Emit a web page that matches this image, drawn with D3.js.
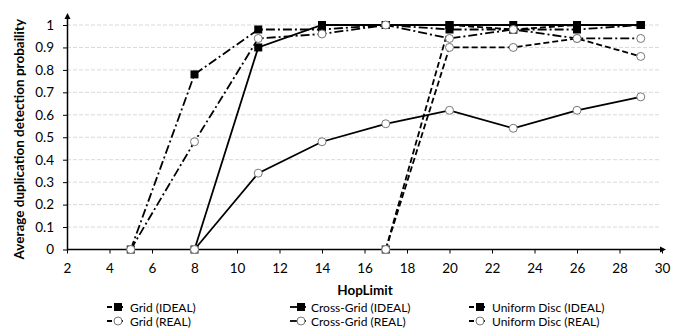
<!DOCTYPE html>
<html lang="en">
<head>
    <meta charset="UTF-8">
    <title>HopLimit</title>
    <script src="https://d3js.org/d3.v7.min.js"></script>
    <style>
        body { margin: 0; background: #fff; }
        svg text { font-family: Lato, "Open Sans", sans-serif; fill: #000; }
    </style>
</head>
<body>
    <svg width="685" height="333"></svg>
    <script>
        // values
        const xTicks = [2, 4, 6, 8, 10, 12, 14, 16, 18, 20, 22, 24, 26, 28, 30];
        const yTicks = [0, 0.1, 0.2, 0.3, 0.4, 0.5, 0.6, 0.7, 0.8, 0.9, 1];

        const gridHops = [17, 20, 23, 26, 29];
        const gridIdeal = [0, 1, 0.98, 1, 1];
        const gridReal = [0, 0.9, 0.9, 0.94, 0.86];

        const crossHops = [8, 11, 14, 17, 20, 23, 26, 29];
        const crossIdeal = [0, 0.9, 1, 1, 1, 1, 1, 1];
        const crossReal = [0, 0.34, 0.48, 0.56, 0.62, 0.54, 0.62, 0.68];

        const discHops = [5, 8, 11, 14, 17, 20, 23, 26, 29];
        const discIdeal = [0, 0.78, 0.98, 0.98, 1, 0.98, 0.98, 0.98, 1];
        const discReal = [0, 0.48, 0.94, 0.96, 1, 0.94, 0.98, 0.94, 0.94];

        const dashed = "6,3";
        const dashDot = "9,3,2,3";

        const series = [
            {name: "Grid (IDEAL)", x: gridHops, y: gridIdeal, dash: dashed, marker: "square"},
            {name: "Grid (REAL)", x: gridHops, y: gridReal, dash: dashed, marker: "circle"},
            {name: "Cross-Grid (IDEAL)", x: crossHops, y: crossIdeal, dash: null, marker: "square"},
            {name: "Cross-Grid (REAL)", x: crossHops, y: crossReal, dash: null, marker: "circle"},
            {name: "Uniform Disc (IDEAL)", x: discHops, y: discIdeal, dash: dashDot, marker: "square"},
            {name: "Uniform Disc (REAL)", x: discHops, y: discReal, dash: dashDot, marker: "circle"}
        ];

        const margin = {top: 25, left: 67};
        const plotBottom = 249.5;

        const svg = d3.select("svg");

        const xScale = d3.scaleLinear()
            .domain([2, 30])
            .range([margin.left, 662]);

        const yScale = d3.scaleLinear()
            .domain([0, 1])
            .range([plotBottom, margin.top]);

        // gridlines
        svg.append("g")
            .selectAll("line")
            .data(yTicks.filter(d => d > 0))
            .join("line")
            .attr("x1", margin.left)
            .attr("x2", 660)
            .attr("y1", d => yScale(d))
            .attr("y2", d => yScale(d))
            .attr("stroke", "#d9d9d9")
            .attr("stroke-dasharray", "4,2");

        // axes
        const xAxis = svg.append("g")
            .attr("transform", `translate(0,${plotBottom})`)
            .call(d3.axisBottom(xScale).tickValues(xTicks).tickSize(4).tickSizeOuter(0).tickPadding(10));
        xAxis.select(".domain").attr("d", `M${margin.left},0H663`).attr("stroke-width", 1.5);
        xAxis.selectAll("text").attr("font-size", 13.5);

        const yAxis = svg.append("g")
            .attr("transform", `translate(${margin.left},0)`)
            .call(d3.axisLeft(yScale).tickValues(yTicks).tickFormat(d3.format("~g")).tickSize(4).tickSizeOuter(0).tickPadding(9));
        yAxis.select(".domain").attr("d", `M0.5,${plotBottom + 1}V16`).attr("stroke-width", 1.5);
        yAxis.selectAll("text").attr("font-size", 13.5);

        // axis arrows
        svg.append("path")
            .attr("d", `M${margin.left + 0.5},13 l-3,6 h6 z`)
            .attr("fill", "#000");
        svg.append("path")
            .attr("d", `M666,${plotBottom} l-6,-3 v6 z`)
            .attr("fill", "#000");

        // titles
        svg.append("text")
            .attr("x", 365)
            .attr("y", 295)
            .attr("text-anchor", "middle")
            .attr("font-size", 13.5)
            .attr("font-weight", "bold")
            .text("HopLimit");

        svg.append("text")
            .attr("transform", `translate(24,${(margin.top + plotBottom) / 2 + 2}) rotate(-90)`)
            .attr("text-anchor", "middle")
            .attr("font-size", 13.5)
            .attr("font-weight", "bold")
            .text("Average duplication detection probaility");

        // lines
        const line = d3.line()
            .x(d => xScale(d[0]))
            .y(d => yScale(d[1]));

        function drawMarker(g, type, cx, cy) {
            if (type === "square") {
                g.append("rect")
                    .attr("x", cx - 4).attr("y", cy - 4)
                    .attr("width", 8).attr("height", 8)
                    .attr("fill", "#000");
            } else {
                g.append("circle")
                    .attr("cx", cx).attr("cy", cy).attr("r", 4)
                    .attr("fill", "#fff")
                    .attr("stroke", "#777")
                    .attr("stroke-width", 1);
            }
        }

        series.forEach(s => {
            const pts = s.x.map((x, i) => [x, s.y[i]]);
            const g = svg.append("g");
            g.append("path")
                .datum(pts)
                .attr("fill", "none")
                .attr("stroke", "#000")
                .attr("stroke-width", 1.8)
                .attr("stroke-dasharray", s.dash)
                .attr("d", line);
            pts.forEach(p => drawMarker(g, s.marker, xScale(p[0]), yScale(p[1])));
        });

        // legend
        const legendCols = [107, 290, 469];
        const legendRows = [307, 321];
        series.forEach((s, i) => {
            const col = Math.floor(i / 2), row = i % 2;
            const lx = legendCols[col], ly = legendRows[row];
            const g = svg.append("g");
            g.append("line")
                .attr("x1", lx).attr("x2", lx + 16)
                .attr("y1", ly).attr("y2", ly)
                .attr("stroke", "#000")
                .attr("stroke-width", 1.8)
                .attr("stroke-dasharray", s.dash ? "5,2" : null);
            drawMarker(g, s.marker, lx + 11, ly);
            g.append("text")
                .attr("x", col === 1 ? lx + 21 : lx + 23)
                .attr("y", ly + 4.5)
                .attr("font-size", 12)
                .text(s.name);
        });
    </script>
</body>
</html>
